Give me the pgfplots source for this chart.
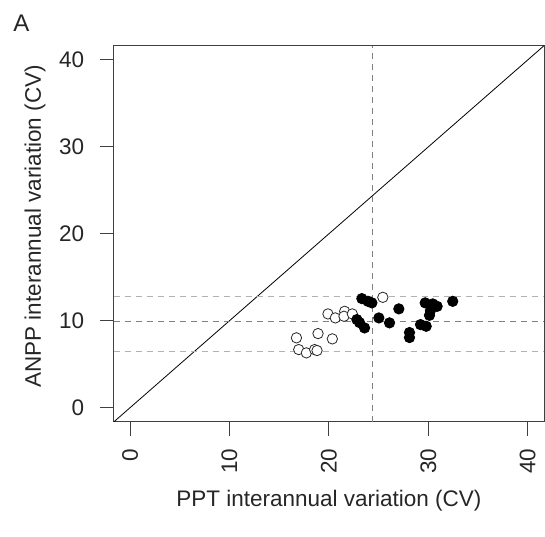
\documentclass[border=0pt]{standalone}
\usepackage{pgfplots}
\pgfplotsset{compat=1.18}
\usepackage{fontspec}
\setmainfont{Liberation Sans}
\begin{document}
\begin{tikzpicture}
\useasboundingbox (0,0) rectangle (545bp,537bp);
\begin{axis}[
  at={(113.7bp,115bp)}, anchor=south west,
  scale only axis, width=430.3bp, height=376.3bp,
  xmin=-1.64, xmax=41.64, ymin=-1.64, ymax=41.64,
  xtick={0,10,20,30,40}, ytick={0,10,20,30,40},
  tick align=outside, major tick length=14bp,
  xtick pos=bottom, ytick pos=left,
  /pgf/number format/assume math mode=true,
  tick label style={font=\fontsize{22.5bp}{26bp}\selectfont, color=black!85},
  xticklabel style={rotate=90, anchor=east},
  yticklabel style={anchor=east},
  xticklabel shift=9bp, yticklabel shift=12bp,
  label style={font=\fontsize{22.5bp}{26bp}\selectfont, color=black!85},
  xlabel={PPT interannual variation (CV)},
  ylabel={ANPP interannual variation (CV)},
  xlabel style={at={(axis description cs:0.5,-0.21)}, anchor=center},
  ylabel style={at={(axis description cs:-0.183,0.52)}, anchor=center},
  axis line style={black!75, line width=1bp},
  every tick/.style={black!75, line width=1bp},
  clip=true,
]
\addplot[black, line width=0.8bp] coordinates {(-1.64,-1.64) (41.64,41.64)};
\addplot[black!30, line width=1bp, dash pattern=on 6bp off 5bp] coordinates {(-1.64,12.81) (41.64,12.81)};
\addplot[black!30, line width=1bp, dash pattern=on 6bp off 5bp] coordinates {(-1.64,6.43) (41.64,6.43)};
\addplot[black!50, line width=1bp, dash pattern=on 6bp off 5bp] coordinates {(-1.64,9.94) (41.64,9.94)};
\addplot[black!50, line width=1bp, dash pattern=on 6bp off 5bp] coordinates {(24.37,-1.64) (24.37,41.64)};
% open circles
\addplot[only marks, mark=*, mark size=5.2bp, mark options={fill=white, draw=black!85, line width=0.8bp}] coordinates {
(19.91,10.79) (20.65,10.33) (21.59,11.09) (21.52,10.52) (22.36,10.79)
(16.74,8.04) (18.91,8.53) (20.35,7.92) (16.97,6.69) (17.74,6.31)
(18.57,6.69) (18.81,6.58) (25.43,12.70)
};
% filled circles
\addplot[only marks, mark=*, mark size=5.2bp, mark options={fill=black, draw=black, line width=0.8bp}] coordinates {
(23.32,12.55) (23.93,12.24) (24.33,12.06) (27.04,11.37) (22.82,10.14)
(23.09,9.79) (23.59,9.18) (25.03,10.33) (26.10,9.76) (28.11,8.65)
(28.11,8.07) (29.69,12.06) (30.45,11.94) (30.89,11.66) (32.46,12.24)
(30.12,10.63) (30.22,11.17) (29.22,9.56) (29.79,9.37)
};
\end{axis}
\node[font=\fontsize{24bp}{27bp}\selectfont, color=black!85] at (21.5bp,514bp) {A};
\end{tikzpicture}
\end{document}
